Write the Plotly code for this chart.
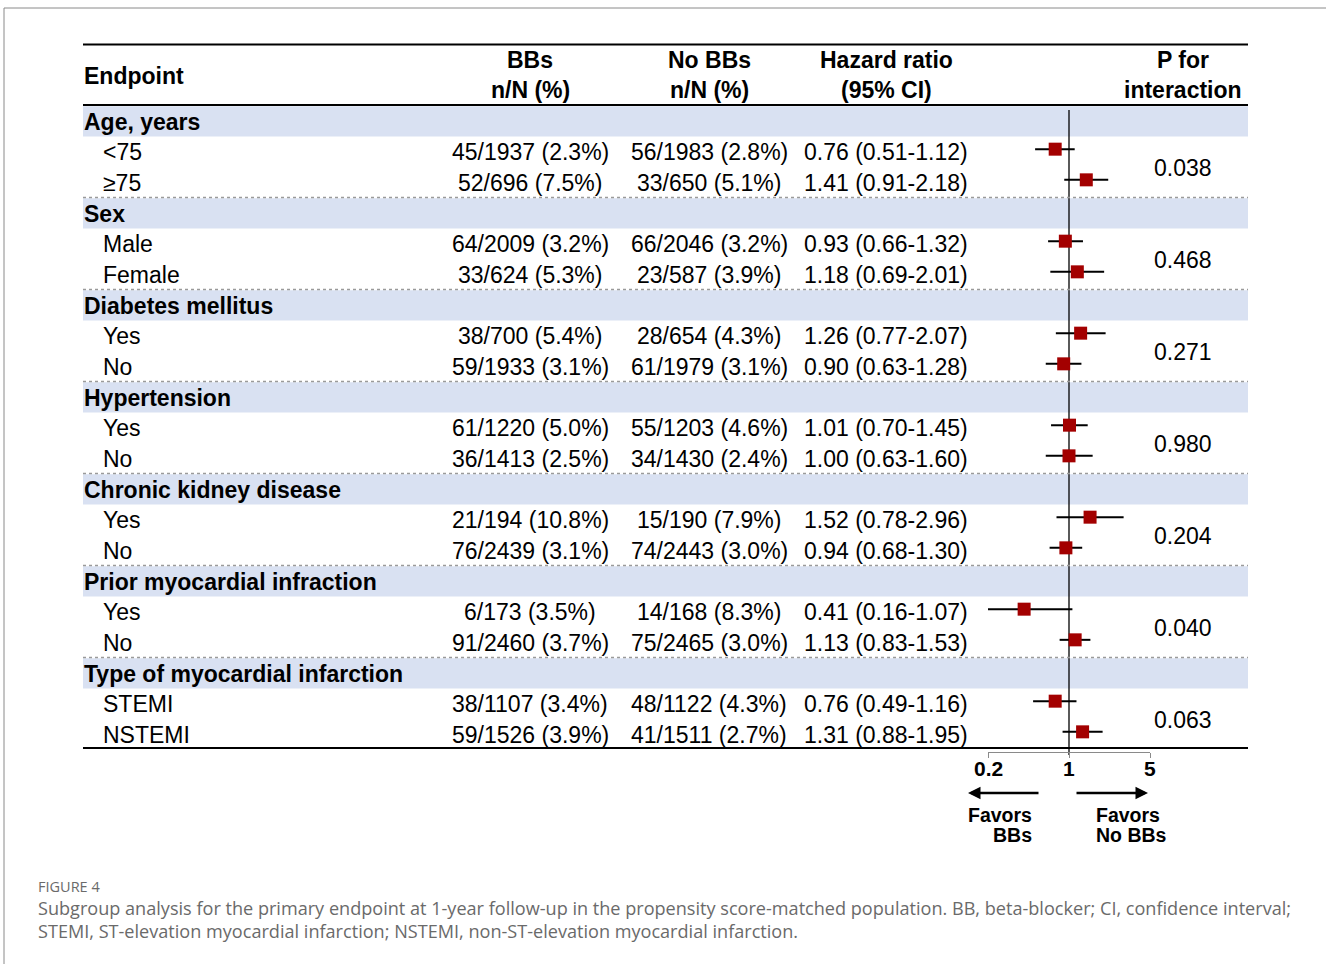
import math
import plotly.graph_objects as go

# ---------------- data ----------------
groups = ["Age, years", "Sex", "Diabetes mellitus", "Hypertension",
          "Chronic kidney disease", "Prior myocardial infraction",
          "Type of myocardial infarction"]
subgroups = [["<75", "≥75"], ["Male", "Female"], ["Yes", "No"], ["Yes", "No"],
             ["Yes", "No"], ["Yes", "No"], ["STEMI", "NSTEMI"]]
bbs = ["45/1937 (2.3%)", "52/696 (7.5%)", "64/2009 (3.2%)", "33/624 (5.3%)",
       "38/700 (5.4%)", "59/1933 (3.1%)", "61/1220 (5.0%)", "36/1413 (2.5%)",
       "21/194 (10.8%)", "76/2439 (3.1%)", "6/173 (3.5%)", "91/2460 (3.7%)",
       "38/1107 (3.4%)", "59/1526 (3.9%)"]
no_bbs = ["56/1983 (2.8%)", "33/650 (5.1%)", "66/2046 (3.2%)", "23/587 (3.9%)",
          "28/654 (4.3%)", "61/1979 (3.1%)", "55/1203 (4.6%)", "34/1430 (2.4%)",
          "15/190 (7.9%)", "74/2443 (3.0%)", "14/168 (8.3%)", "75/2465 (3.0%)",
          "48/1122 (4.3%)", "41/1511 (2.7%)"]
hr = [0.76, 1.41, 0.93, 1.18, 1.26, 0.90, 1.01, 1.00, 1.52, 0.94, 0.41, 1.13, 0.76, 1.31]
ci_lo = [0.51, 0.91, 0.66, 0.69, 0.77, 0.63, 0.70, 0.63, 0.78, 0.68, 0.16, 0.83, 0.49, 0.88]
ci_hi = [1.12, 2.18, 1.32, 2.01, 2.07, 1.28, 1.45, 1.60, 2.96, 1.30, 1.07, 1.53, 1.16, 1.95]
p_inter = ["0.038", "0.468", "0.271", "0.980", "0.204", "0.040", "0.063"]
x_ticks = [0.2, 1, 5]
x_ticklabels = ["0.2", "1", "5"]

# ---------------- layout constants ----------------
W, H = 1326, 964
FONT = "Liberation Sans, Arial, sans-serif"
FS = 23
BAND = "#D9E1F2"
TBL_L, TBL_R = 83, 1248
G_TOP0, G_STEP, ROW_H = 105.5, 92, 30.67
COL_LABEL, COL_SUB = 82, 101
COL_BB, COL_NB, COL_HR, COL_P = 530, 709, 886, 1183
AX_L, AX_R, AX_Y = 988, 1150, 752


def px(x):
    return x / W


annotations = []
shapes = []


def text(x, y, s, anchor="left", size=FS, color="black", family=FONT, xref="paper"):
    annotations.append(dict(x=px(x) if xref == "paper" else x, y=y, xref=xref, yref="y",
                            text=s, showarrow=False, xanchor=anchor, yanchor="middle",
                            font=dict(family=family, size=size, color=color)))


def hline(x0, x1, y, width=2, color="black", dash="solid"):
    shapes.append(dict(type="line", xref="paper", yref="y", x0=px(x0), x1=px(x1),
                       y0=y, y1=y, line=dict(color=color, width=width, dash=dash)))


# outer frame
shapes.append(dict(type="rect", xref="paper", yref="y", x0=px(4), x1=px(1335),
                   y0=8, y1=975, line=dict(color="#8a8a8a", width=1)))

# header
hline(TBL_L, TBL_R, 44.5)
hline(TBL_L, TBL_R, 105)
text(COL_LABEL, 76, "<b>Endpoint</b>")
for cx, l1, l2 in [(COL_BB, "BBs", "n/N (%)"), (COL_NB, "No BBs", "n/N (%)"),
                   (COL_HR, "Hazard ratio", "(95% CI)"), (COL_P, "P for", "interaction")]:
    text(cx, 60, f"<b>{l1}</b>", anchor="center")
    text(cx, 90, f"<b>{l2}</b>", anchor="center")

# rows
row_y = []
for g, name in enumerate(groups):
    top = G_TOP0 + G_STEP * g
    shapes.append(dict(type="rect", xref="paper", yref="y", x0=px(TBL_L), x1=px(TBL_R),
                       y0=top + 0.8, y1=top + 31, fillcolor=BAND, line=dict(width=0),
                       layer="below"))
    if g > 0:
        hline(TBL_L, TBL_R, top, width=1.3, color="#9a9a9a", dash="dot")
    text(COL_LABEL, top + 16, f"<b>{name}</b>")
    ys = []
    for k, sub in enumerate(subgroups[g]):
        i = 2 * g + k
        y = top + 16 + ROW_H * (k + 1)
        ys.append(y)
        row_y.append(y)
        text(COL_SUB, y, sub)
        text(COL_BB, y, bbs[i], anchor="center")
        text(COL_NB, y, no_bbs[i], anchor="center")
        text(COL_HR, y, f"{hr[i]:.2f} ({ci_lo[i]:.2f}-{ci_hi[i]:.2f})", anchor="center")
    text(COL_P, sum(ys) / 2, p_inter[g], anchor="center")

hline(TBL_L, TBL_R, 748)

# forest plot traces
mark_y = [y - 3 for y in row_y]
wx, wy = [], []
for i in range(len(hr)):
    wx += [max(ci_lo[i], x_ticks[0]), min(ci_hi[i], x_ticks[-1]), None]
    wy += [mark_y[i], mark_y[i], None]

fig = go.Figure()
fig.add_trace(go.Scatter(x=[1, 1], y=[110, 755], mode="lines",
                         line=dict(color="black", width=1.3), hoverinfo="skip"))
fig.add_trace(go.Scatter(x=wx, y=wy, mode="lines",
                         line=dict(color="black", width=2), hoverinfo="skip"))
fig.add_trace(go.Scatter(x=hr, y=mark_y, mode="markers",
                         marker=dict(symbol="square", size=13, color="#A30000",
                                     line=dict(width=0)), cliponaxis=False))

# tick labels (bold) under the log axis
for v, lab in zip(x_ticks, x_ticklabels):
    text(math.log10(v), 768, f"<b>{lab}</b>", anchor="center", size=21, xref="x")

# arrows & favors text
annotations.append(dict(x=px(968), y=793, xref="paper", yref="y", text="",
                        showarrow=True, ax=72, ay=0, axref="pixel", ayref="pixel",
                        arrowhead=2, arrowsize=1, arrowwidth=2.5, arrowcolor="black"))
annotations.append(dict(x=px(1148), y=793, xref="paper", yref="y", text="",
                        showarrow=True, ax=-73, ay=0, axref="pixel", ayref="pixel",
                        arrowhead=2, arrowsize=1, arrowwidth=2.5, arrowcolor="black"))
text(1034, 815, "<b>Favors</b>", anchor="right", size=19.5)
text(1034, 835, "<b>BBs</b>", anchor="right", size=19.5)
text(1094, 815, "<b>Favors</b>", anchor="left", size=19.5)
text(1094, 835, "<b>No BBs</b>", anchor="left", size=19.5)

# caption
CAP = "Open Sans, Noto Sans, sans-serif"
text(36, 886, "FIGURE 4", size=14.5, color="#6a6a6a", family=CAP)
text(36, 908, "Subgroup analysis for the primary endpoint at 1-year follow-up in the "
     "propensity score-matched population. BB, beta-blocker; CI, confidence interval;",
     size=18.1, color="#6a6a6a", family=CAP)
text(36, 931, "STEMI, ST-elevation myocardial infarction; NSTEMI, non-ST-elevation "
     "myocardial infarction.", size=18.1, color="#6a6a6a", family=CAP)

fig.update_layout(
    template="none",
    width=W, height=H, margin=dict(l=0, r=0, t=0, b=0, pad=0, autoexpand=False),
    paper_bgcolor="white", plot_bgcolor="rgba(0,0,0,0)",
    showlegend=False, shapes=shapes, annotations=annotations,
    xaxis=dict(type="log", domain=[px(AX_L), px(AX_R)],
               range=[math.log10(x_ticks[0]), math.log10(x_ticks[-1])],
               anchor="free", position=1 - AX_Y / H, automargin=False,
               showline=True, linecolor="#8a8a8a", linewidth=1,
               ticks="outside", ticklen=5, tickcolor="#8a8a8a", tickwidth=1,
               tickvals=x_ticks, showticklabels=False,
               showgrid=False, zeroline=False, fixedrange=True),
    yaxis=dict(domain=[0, 1], range=[H, 0], visible=False, automargin=False,
               fixedrange=True),
)

fig.write_html("out.html")
